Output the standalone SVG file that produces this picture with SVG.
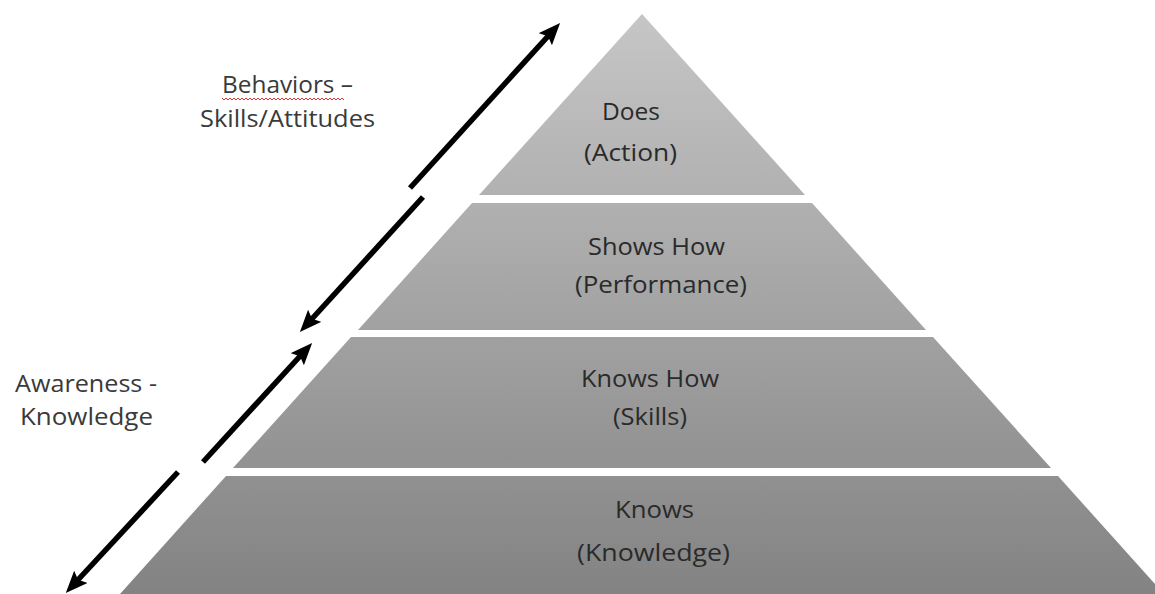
<svg xmlns="http://www.w3.org/2000/svg" width="1155" height="594" viewBox="0 0 1155 594">
  <defs>
    <linearGradient id="pyrGrad" gradientUnits="userSpaceOnUse" x1="0" y1="14" x2="0" y2="594">
      <stop offset="0" stop-color="#c6c6c6"/>
      <stop offset="1" stop-color="#838383"/>
    </linearGradient>
    <marker id="head" viewBox="0 0 22 18" refX="7" refY="9" markerWidth="22" markerHeight="18" markerUnits="userSpaceOnUse" orient="auto">
      <path d="M0,0 L22,9 L0,18 L4,9 Z" fill="#000"/>
    </marker>
    <style>
      .tier { fill: url(#pyrGrad); }
      .lbl { font-family: "Open Sans", "Liberation Sans", sans-serif; font-size: 24px; fill: #2a2a2a; }
      .side { font-family: "Open Sans", "Liberation Sans", sans-serif; font-size: 24px; fill: #3a3a3a; }
      .arrow { stroke: #000; stroke-width: 5.5; fill: none; marker-end: url(#head); }
    </style>
  </defs>
  <rect width="1155" height="594" fill="#fff"/>

  <g id="tier-does">
    <polygon class="tier" points="642,14 805,195 479,195"/>
    <text class="lbl" x="602" y="120" textLength="58" lengthAdjust="spacingAndGlyphs">Does</text>
    <text class="lbl" x="584" y="161" textLength="93" lengthAdjust="spacingAndGlyphs">(Action)</text>
  </g>
  <g id="tier-shows-how">
    <polygon class="tier" points="472,203 812,203 926,330 358,330"/>
    <text class="lbl" x="588" y="255" textLength="137" lengthAdjust="spacingAndGlyphs">Shows How</text>
    <text class="lbl" x="575" y="293" textLength="172" lengthAdjust="spacingAndGlyphs">(Performance)</text>
  </g>
  <g id="tier-knows-how">
    <polygon class="tier" points="351,337 933,337 1051,468 233,468"/>
    <text class="lbl" x="581" y="387" textLength="138" lengthAdjust="spacingAndGlyphs">Knows How</text>
    <text class="lbl" x="613" y="425" textLength="74" lengthAdjust="spacingAndGlyphs">(Skills)</text>
  </g>
  <g id="tier-knows">
    <polygon class="tier" points="226,476 1058,476 1164,594 120,594"/>
    <text class="lbl" x="615" y="518" textLength="79" lengthAdjust="spacingAndGlyphs">Knows</text>
    <text class="lbl" x="577" y="561" textLength="153" lengthAdjust="spacingAndGlyphs">(Knowledge)</text>
  </g>

  <g id="label-behaviors">
    <text class="side" x="222" y="93" textLength="131" lengthAdjust="spacingAndGlyphs">Behaviors –</text>
    <path d="M222,98 l2,2 l2,-2 l2,2 l2,-2 l2,2 l2,-2 l2,2 l2,-2 l2,2 l2,-2 l2,2 l2,-2 l2,2 l2,-2 l2,2 l2,-2 l2,2 l2,-2 l2,2 l2,-2 l2,2 l2,-2 l2,2 l2,-2 l2,2 l2,-2 l2,2 l2,-2 l2,2 l2,-2 l2,2 l2,-2 l2,2 l2,-2 l2,2 l2,-2 l2,2 l2,-2 l2,2 l2,-2 l2,2 l2,-2 l2,2 l2,-2 l2,2 l2,-2 l2,2 l2,-2 l2,2 l2,-2 l2,2 l2,-2 l2,2 l2,-2 l2,2 l2,-2 l2,2 l2,-2 l2,2 l2,-2 l2,2" fill="none" stroke="#d9302c" stroke-width="1"/>
    <text class="side" x="200" y="127" textLength="175" lengthAdjust="spacingAndGlyphs">Skills/Attitudes</text>
  </g>
  <g id="label-awareness">
    <text class="side" x="15" y="392" textLength="142" lengthAdjust="spacingAndGlyphs">Awareness -</text>
    <text class="side" x="20" y="425" textLength="133" lengthAdjust="spacingAndGlyphs">Knowledge</text>
  </g>

  <g id="connectors">
    <line class="arrow" x1="410" y1="188" x2="550" y2="34"/>
    <line class="arrow" x1="423" y1="197" x2="310" y2="321"/>
    <line class="arrow" x1="203" y1="462" x2="302" y2="354"/>
    <line class="arrow" x1="178" y1="472" x2="76" y2="582"/>
  </g>
</svg>
